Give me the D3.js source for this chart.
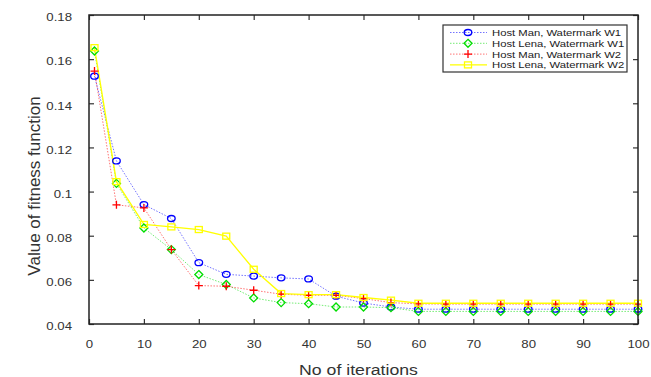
<!DOCTYPE html>
<html>
<head>
<meta charset="utf-8">
<script src="https://cdn.jsdelivr.net/npm/d3@7"></script>
<style>
  body { margin: 0; background: #fff; }
  text { font-family: "Liberation Sans", Arial, sans-serif; }
</style>
</head>
<body>
<div id="chart"></div>
<script>
// iterations (x) and fitness values per run
const iterations = [1, 5, 10, 15, 20, 25, 30, 35, 40, 45, 50, 55, 60, 65, 70, 75, 80, 85, 90, 95, 100];
const manW1  = [0.1523, 0.1139, 0.0941, 0.0878, 0.0678, 0.0625, 0.0617, 0.0609, 0.0604, 0.0526, 0.0495, 0.0477, 0.0467, 0.0467, 0.0467, 0.0467, 0.0467, 0.0467, 0.0467, 0.0467, 0.0467];
const lenaW1 = [0.1637, 0.1037, 0.0835, 0.0737, 0.0624, 0.0579, 0.0518, 0.0497, 0.0492, 0.0477, 0.0477, 0.0474, 0.0457, 0.0457, 0.0457, 0.0457, 0.0457, 0.0457, 0.0457, 0.0457, 0.0457];
const manW2  = [0.1546, 0.0940, 0.0926, 0.0737, 0.0574, 0.0571, 0.0553, 0.0535, 0.0530, 0.0530, 0.0515, 0.0497, 0.0491, 0.0490, 0.0490, 0.0490, 0.0490, 0.0490, 0.0490, 0.0490, 0.0490];
const lenaW2 = [0.1652, 0.1045, 0.0851, 0.0840, 0.0828, 0.0798, 0.0648, 0.0538, 0.0533, 0.0533, 0.0520, 0.0508, 0.0494, 0.0494, 0.0494, 0.0494, 0.0494, 0.0494, 0.0494, 0.0494, 0.0494];

const xTicks = [0, 10, 20, 30, 40, 50, 60, 70, 80, 90, 100];
const yTicks = [0.04, 0.06, 0.08, 0.1, 0.12, 0.14, 0.16, 0.18];

const series = [
  { name: 'Host Man, Watermark W1',  values: manW1,  color: '#0000ff', dash: '1.5,1.5', marker: 'circle' },
  { name: 'Host Lena, Watermark W1', values: lenaW1, color: '#00dd00', dash: '1.5,1.5', marker: 'diamond' },
  { name: 'Host Man, Watermark W2',  values: manW2,  color: '#ff0000', dash: '1.5,1.5', marker: 'plus' },
  { name: 'Host Lena, Watermark W2', values: lenaW2, color: '#ffff00', dash: null,      marker: 'square' },
];

const W = 651, H = 377;
const margin = { top: 15, right: 13, bottom: 53, left: 89 };
const width = W - margin.left - margin.right;
const height = H - margin.top - margin.bottom;
const stretch = 1.15; // text in the figure is a bit wider than tall

const svg = d3.select('#chart').append('svg')
  .attr('width', W).attr('height', H);

const g = svg.append('g').attr('transform', `translate(${margin.left},${margin.top})`);

const x = d3.scaleLinear().domain([0, 100]).range([0, width]);
const y = d3.scaleLinear().domain([0.04, 0.18]).range([height, 0]);

const fmt = d => String(+d.toFixed(2));

// axes, ticks pointing inwards
const xAxis = g.append('g').attr('transform', `translate(0,${height})`)
  .call(d3.axisBottom(x).tickValues(xTicks).tickSize(-5).tickPadding(0).tickFormat(d3.format('d')));
const yAxis = g.append('g')
  .call(d3.axisLeft(y).tickValues(yTicks).tickSize(-5).tickPadding(0).tickFormat(fmt));
g.append('g').call(d3.axisTop(x).tickValues(xTicks).tickSize(-5).tickFormat(''));
g.append('g').attr('transform', `translate(${width},0)`)
  .call(d3.axisRight(y).tickValues(yTicks).tickSize(-5).tickFormat(''));

g.selectAll('.domain').remove();
g.selectAll('.tick line').attr('stroke', '#333').attr('stroke-width', 1.2);

xAxis.selectAll('text')
  .attr('y', 0).attr('dy', 24)
  .attr('fill', '#333').style('font-size', '11.5px')
  .attr('transform', `scale(${stretch},1)`);
yAxis.selectAll('text')
  .attr('x', -17 / stretch).attr('dy', '0.5em')
  .attr('fill', '#333').style('font-size', '11.5px')
  .attr('transform', `scale(${stretch},1)`);

// series
series.forEach(s => {
  const pts = iterations.map((it, i) => ({ it, v: s.values[i] }));
  const line = d3.line().x(d => x(d.it)).y(d => y(d.v));
  g.append('path').datum(pts)
    .attr('fill', 'none')
    .attr('stroke', s.color)
    .attr('stroke-width', s.dash ? 1 : 1.3)
    .attr('stroke-opacity', s.dash ? 0.55 : 1)
    .attr('stroke-dasharray', s.dash)
    .attr('d', line);
});

function drawMarker(sel, s) {
  sel.attr('fill', 'none').attr('stroke', s.color).attr('stroke-width', 1.3);
  if (s.marker === 'circle') {
    sel.append('ellipse').attr('rx', 3.8).attr('ry', 3);
  } else if (s.marker === 'diamond') {
    sel.append('path').attr('d', 'M0,-4L4,0L0,4L-4,0Z');
  } else if (s.marker === 'plus') {
    sel.append('path').attr('d', 'M-4,0H4M0,-4V4');
  } else {
    sel.append('rect').attr('x', -3.5).attr('y', -3).attr('width', 7).attr('height', 6);
  }
}

series.forEach(s => {
  g.selectAll(null).data(iterations.map((it, i) => ({ it, v: s.values[i] })))
    .enter().append('g')
    .attr('transform', d => `translate(${x(d.it)},${y(d.v)})`)
    .each(function () { drawMarker(d3.select(this), s); });
});

// frame
g.append('rect')
  .attr('width', width).attr('height', height)
  .attr('fill', 'none').attr('stroke', '#222').attr('stroke-width', 1.5);

// axis titles
svg.append('text')
  .attr('transform', `translate(${margin.left + width / 2 - 5},375) scale(1.18,1)`)
  .attr('text-anchor', 'middle')
  .attr('fill', '#333').style('font-size', '15px')
  .text('No of iterations');

svg.append('text')
  .attr('transform', 'translate(40,186) rotate(-90)')
  .attr('text-anchor', 'middle')
  .attr('fill', '#333').style('font-size', '17px')
  .text('Value of fitness function');

// legend
const legend = svg.append('g').attr('transform', 'translate(443,25)');
legend.append('rect').attr('width', 184).attr('height', 47)
  .attr('fill', '#fff').attr('stroke', '#333').attr('stroke-width', 1.2);

const rows = legend.selectAll('.row').data(series).enter().append('g')
  .attr('transform', (d, i) => `translate(0,${7.5 + i * 10.8})`);

rows.append('line')
  .attr('x1', 7).attr('x2', 44)
  .attr('stroke', d => d.color)
  .attr('stroke-width', d => d.dash ? 1 : 1.3)
  .attr('stroke-opacity', d => d.dash ? 0.55 : 1)
  .attr('stroke-dasharray', d => d.dash);
rows.append('g').attr('transform', 'translate(25,0)')
  .each(function (d) { drawMarker(d3.select(this), d); });
rows.append('text')
  .attr('transform', `translate(49,0) scale(${stretch},1)`)
  .attr('dy', '0.35em')
  .attr('fill', '#222').style('font-size', '9.8px')
  .text(d => d.name);
</script>
</body>
</html>
